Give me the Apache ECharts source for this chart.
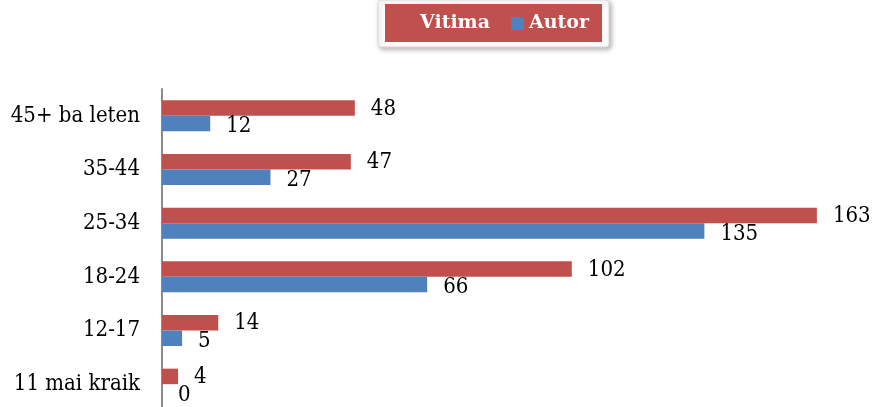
<!DOCTYPE html>
<html>
<head>
<meta charset="utf-8">
<script src="https://cdn.jsdelivr.net/npm/echarts@6/dist/echarts.min.js"></script>
<style>
  html, body { margin: 0; padding: 0; background: #fff; }
  #main { width: 875px; height: 407px; }
</style>
</head>
<body>
<div id="main"></div>
<script>
var ageGroups = ['11 mai kraik', '12-17', '18-24', '25-34', '35-44', '45+ ba leten'];
var vitimaData = [4, 14, 102, 163, 47, 48];
var autorData = [0, 5, 66, 135, 27, 12];

var chart = echarts.init(document.getElementById('main'));
var labelFont = '"DejaVu Serif Condensed", "DejaVu Serif", serif';
var legendFont = 'DejaVu Serif';

var option = {
    animation: false,
    backgroundColor: '#fff',
    graphic: [{
        type: 'rect',
        z: 1,
        shape: { x: 378, y: 0, width: 231, height: 47, r: 3 },
        style: {
            fill: '#fff',
            stroke: '#d8d8d8',
            lineWidth: 1,
            shadowBlur: 5,
            shadowOffsetX: 2,
            shadowOffsetY: 2,
            shadowColor: 'rgba(0,0,0,0.3)'
        }
    }],
    legend: {
        data: ['Vitima', 'Autor'],
        left: 385,
        top: 4,
        padding: [10, 13, 9, 17],
        backgroundColor: '#C0504D',
        itemWidth: 13,
        itemHeight: 13,
        itemGap: 21,
        icon: 'rect',
        textStyle: {
            color: '#fff',
            fontFamily: legendFont,
            fontWeight: 'bold',
            fontSize: 19
        }
    },
    grid: {
        left: 162,
        top: 89,
        width: 683,
        height: 322,
        outerBoundsMode: 'none'
    },
    xAxis: {
        type: 'value',
        min: 0,
        max: 170,
        show: false
    },
    yAxis: {
        type: 'category',
        data: ageGroups,
        axisLine: { show: true, lineStyle: { color: '#8c8c8c', width: 2 } },
        axisTick: { show: false },
        axisLabel: {
            color: '#000',
            fontFamily: labelFont,
            fontSize: 22,
            margin: 22
        }
    },
    series: [{
        name: 'Vitima',
        type: 'bar',
        data: vitimaData,
        barWidth: 15.5,
        barGap: '0%',
        itemStyle: { color: '#C0504D' },
        label: {
            show: true,
            position: 'right',
            distance: 16,
            offset: [0, 1],
            color: '#000',
            fontFamily: labelFont,
            fontSize: 22
        }
    }, {
        name: 'Autor',
        type: 'bar',
        data: autorData,
        barWidth: 15.5,
        barGap: '0%',
        itemStyle: { color: '#4F81BD' },
        label: {
            show: true,
            position: 'right',
            distance: 16,
            offset: [0, 3],
            color: '#000',
            fontFamily: labelFont,
            fontSize: 22
        }
    }]
};

chart.setOption(option);
</script>
</body>
</html>
